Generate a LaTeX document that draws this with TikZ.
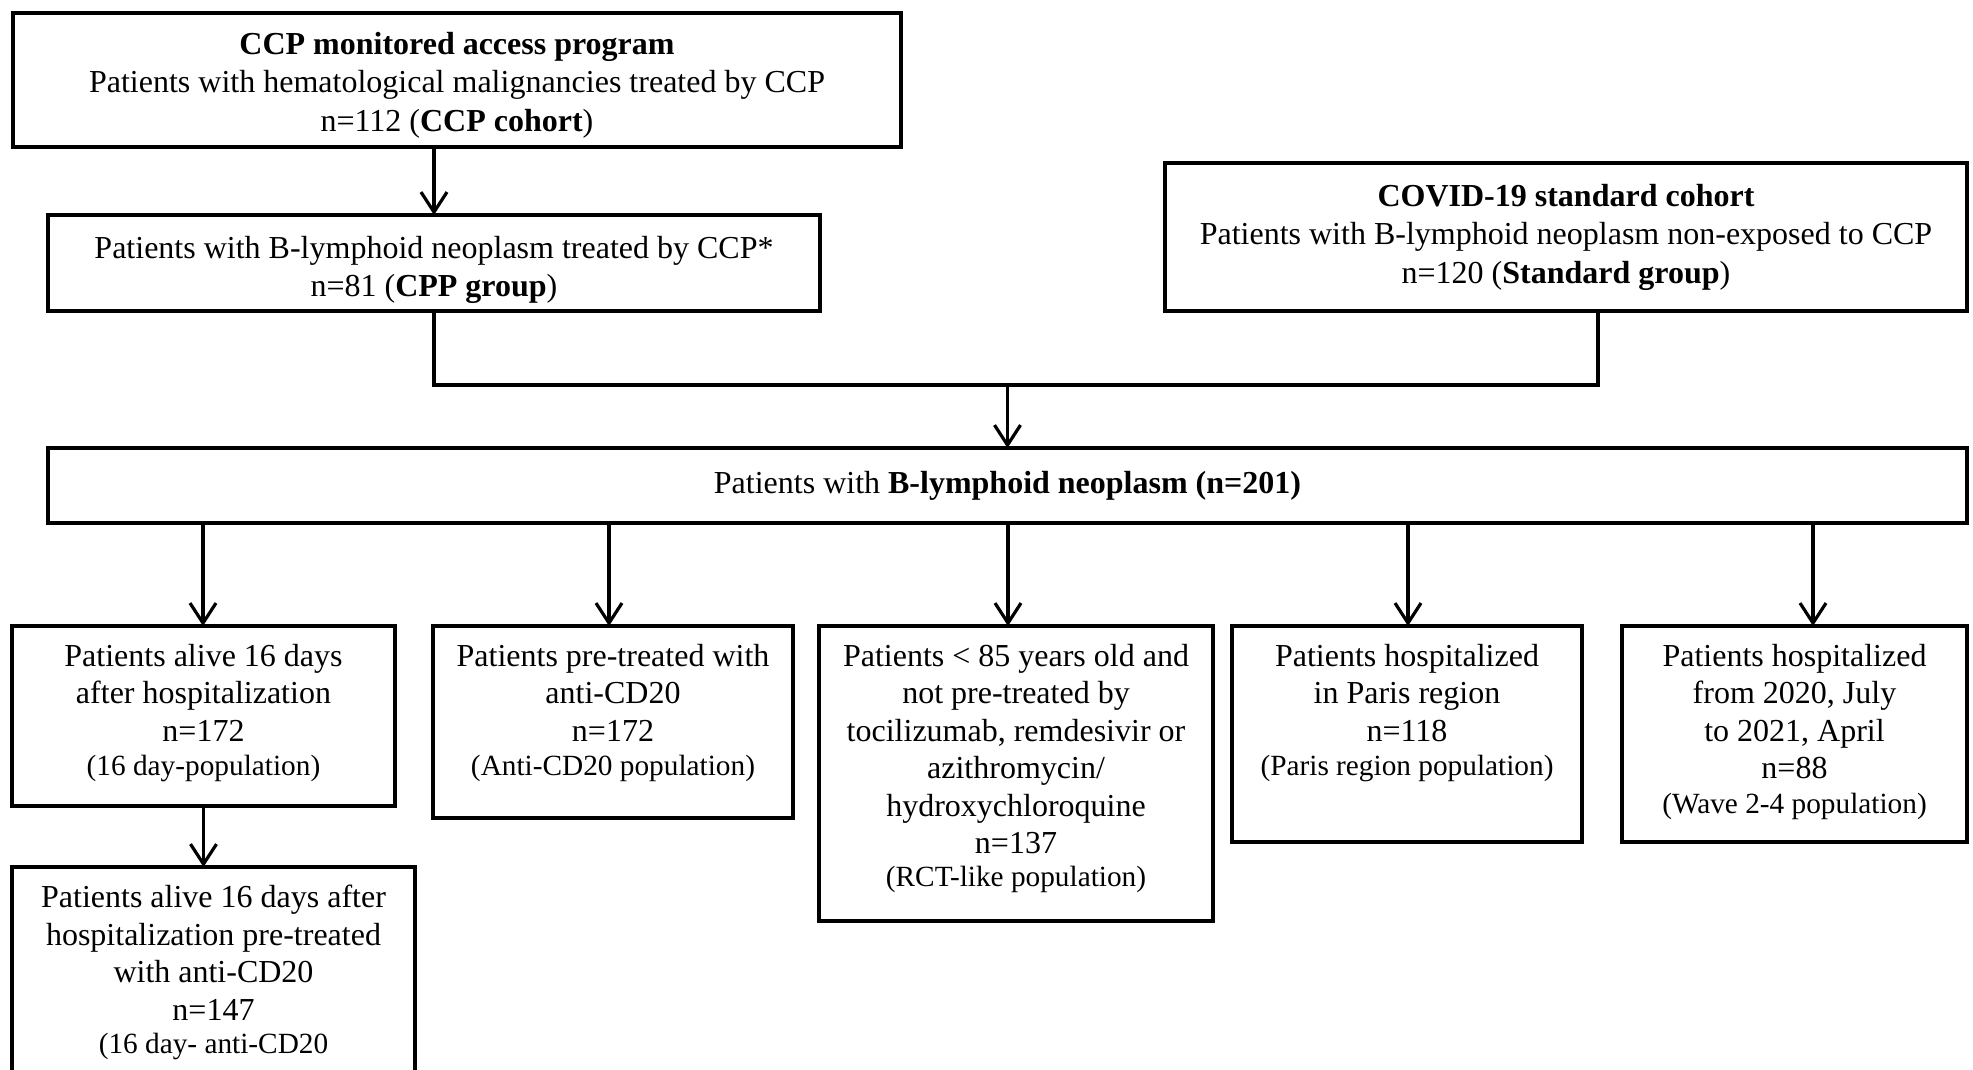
\documentclass[tikz,border=0pt]{standalone}
\usepackage{fontspec}
\setmainfont{Liberation Serif}
\usetikzlibrary{arrows.meta}
\usetikzlibrary{positioning}

\newcommand{\popfont}{\fontsize{32}{37.5}\selectfont}
\newcommand{\headfont}{\fontsize{32}{38.5}\selectfont}
\newcommand{\popsmall}{\fontsize{29.3}{35}\selectfont}

\tikzset{
  popbox/.style={draw, line width=4.2pt, inner sep=0pt, outer sep=0pt,
    align=center, anchor=north west, font=\popfont},
  poptext/.style={inner sep=0pt, align=center, font=\popfont},
  flow/.style={line width=3.2pt, -{Straight Barb[length=20pt,width=26pt]}},
  link/.style={line width=3.2pt}
}

\begin{document}
\begin{tikzpicture}[x=1pt,y=-1pt]
      \useasboundingbox (0,0) rectangle (1973,1070);
      \clip (0,0) rectangle (1973,1070);

      % Source cohorts
      \node[popbox, minimum width=888, minimum height=134] (ccp) at (13,13) {};
      \node[popbox, minimum width=772, minimum height=96] (cpp) at (48,215) {};
      \node[popbox, minimum width=802, minimum height=148] (std) at (1165,163) {};

      \node[poptext, font=\headfont, below=19pt of ccp.north] (ccptxt)
        {\textbf{CCP monitored access program}\\
         Patients with hematological malignancies treated by CCP\\
         n=112 (\textbf{CCP cohort})};
      \node[poptext, font=\headfont, below=21pt of cpp.north] (cpptxt)
        {Patients with B-lymphoid neoplasm treated by CCP*\\
         n=81 (\textbf{CPP group})};
      \node[poptext, font=\headfont, below=21pt of std.north] (stdtxt)
        {\textbf{COVID-19 standard cohort}\\
         Patients with B-lymphoid neoplasm non-exposed to CCP\\
         n=120 (\textbf{Standard group})};

      % Pooled population
      \node[popbox, minimum width=1919, minimum height=75] (b201) at (48,448)
        {Patients with \textbf{B-lymphoid neoplasm (n=201)}};

      % Sub-populations
      \node[popbox, minimum width=383, minimum height=180] (e1) at (12,626) {};
      \node[popbox, minimum width=360, minimum height=192] (e2) at (433,626) {};
      \node[popbox, minimum width=394, minimum height=295] (e3) at (819,626) {};
      \node[popbox, minimum width=350, minimum height=216] (e4) at (1232,626) {};
      \node[popbox, minimum width=345, minimum height=216] (e5) at (1622,626) {};
      \node[popbox, minimum width=403, minimum height=260] (alive) at (12,867) {};

      \node[poptext, below=18pt of e1.north] (e1txt)
        {Patients alive 16 days\\ after hospitalization\\ n=172\\[-3pt]
         {\popsmall (16 day-population)}};
      \node[poptext, below=18pt of e2.north] (e2txt)
        {Patients pre-treated with\\ anti-CD20\\ n=172\\[-3pt]
         {\popsmall (Anti-CD20 population)}};
      \node[poptext, below=18pt of e3.north] (e3txt)
        {Patients < 85 years old and\\ not pre-treated by\\
         tocilizumab, remdesivir or\\ azithromycin/\\ hydroxychloroquine\\
         n=137\\[-5pt] {\popsmall (RCT-like population)}};
      \node[poptext, below=18pt of e4.north] (e4txt)
        {Patients hospitalized\\ in Paris region\\ n=118\\[-3pt]
         {\popsmall (Paris region population)}};
      \node[poptext, below=18pt of e5.north] (e5txt)
        {Patients hospitalized\\ from 2020, July\\ to 2021, April\\ n=88\\[-3pt]
         {\popsmall (Wave 2-4 population)}};
      \node[poptext, below=18pt of alive.north] (alivetxt)
        {Patients alive 16 days after\\ hospitalization pre-treated\\
         with anti-CD20\\ n=147\\[-4pt] {\popsmall (16 day- anti-CD20}};

      % Edges
      \coordinate (jn) at (b201.north |- 0,385);
      \draw[flow] (ccp.south -| cpp.north) -- (cpp.north);
      \draw[link] (cpp.south) |- (jn) -| (std.south -| 1598,0);
      \draw[flow] (jn) -- (b201.north);
      \foreach \x/\n in {203/e1, 609/e2, 1008/e3, 1408/e4, 1813/e5}
        \draw[flow] (b201.south -| \x,0) -- (\n.north -| \x,0);
      \draw[flow] (e1.south) -- (alive.north -| e1.south);
\end{tikzpicture}
\end{document}
